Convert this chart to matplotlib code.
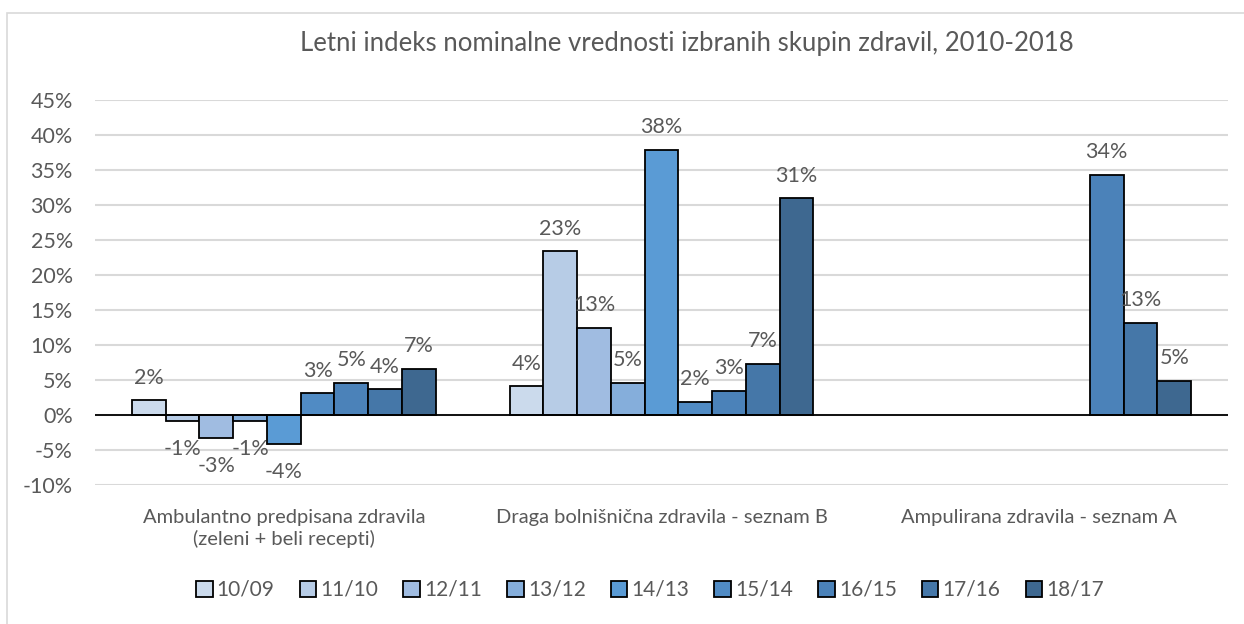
import numpy as np
import matplotlib
matplotlib.use("Agg")
import matplotlib.pyplot as plt
from matplotlib.patches import Rectangle

plt.rcParams['font.family'] = ['Lato', 'DejaVu Sans']

# data (in %)
categories = ["Ambulantno predpisana zdravila\n(zeleni + beli recepti)",
              "Draga bolnišnična zdravila - seznam B",
              "Ampulirana zdravila - seznam A"]
series = ["10/09", "11/10", "12/11", "13/12", "14/13", "15/14", "16/15", "17/16", "18/17"]
v_1009 = [2.1, 4.1, np.nan]
v_1110 = [-0.8, 23.4, np.nan]
v_1211 = [-3.3, 12.5, np.nan]
v_1312 = [-0.8, 4.6, np.nan]
v_1413 = [-4.2, 37.9, np.nan]
v_1514 = [3.1, 1.9, np.nan]
v_1615 = [4.6, 3.5, 34.3]
v_1716 = [3.7, 7.3, 13.2]
v_1817 = [6.6, 31.0, 4.9]
values = [v_1009, v_1110, v_1211, v_1312, v_1413, v_1514, v_1615, v_1716, v_1817]
labels = [["2%", "4%", ""], ["-1%", "23%", ""], ["-3%", "13%", ""], ["-1%", "5%", ""],
          ["-4%", "38%", ""], ["3%", "2%", ""], ["5%", "3%", "34%"], ["4%", "7%", "13%"],
          ["7%", "31%", "5%"]]
colors = ["#cbdaec", "#b7cce6", "#a0bce1", "#85aedb", "#5a9bd5",
          "#508bc4", "#4b82b9", "#4577a8", "#3e6890"]

txt = "#595959"
fig = plt.figure(figsize=(12.44, 6.24), dpi=100)
fig.patches.append(Rectangle((7/1244, -0.1), 1.2, 1 - 13/624 + 0.1, transform=fig.transFigure,
                             fill=False, edgecolor="#d9d9d9", linewidth=1.2))
ax = fig.add_axes([95/1244, 1 - 485/624, (1228 - 95)/1244, 385/624])

x = np.arange(len(categories))
w = 0.0894
for i, (s, vals) in enumerate(zip(series, values)):
    pos = x + (i - 4) * w
    ax.bar(pos, vals, width=w, color=colors[i], edgecolor="black", linewidth=1.3,
           label=s, zorder=3)
    for p, v, lab in zip(pos, vals, labels[i]):
        if np.isnan(v) or lab == "":
            continue
        if v >= 0:
            ax.annotate(lab, (p, v), xytext=(0, 9), textcoords="offset points",
                        ha="center", va="bottom", fontsize=15.5, color=txt)
        else:
            ax.annotate(lab, (p, v), xytext=(0, -13), textcoords="offset points",
                        ha="center", va="top", fontsize=15.5, color=txt)

ax.set_xlim(-0.5, 2.5)
ax.set_ylim(-10, 45)
ax.set_yticks(np.arange(-10, 46, 5))
ax.set_yticklabels([f"{t}%" for t in range(-10, 46, 5)], fontsize=15.5, color=txt)
ax.yaxis.grid(True, color="#d9d9d9", linewidth=1.5, zorder=0)
ax.axhline(0, color="black", linewidth=1.3, zorder=4)
ax.set_xticks(x)
ax.set_xticklabels(categories, fontsize=14.5, color=txt, linespacing=1.3)
ax.tick_params(axis="y", length=0, pad=16)
ax.tick_params(axis="x", length=0, pad=17)
for sp in ax.spines.values():
    sp.set_visible(False)

fig.text(687/1244, 1 - 43/624, "Letni indeks nominalne vrednosti izbranih skupin zdravil, 2010-2018",
         ha="center", va="center", fontsize=18.5, color=txt)

fig.legend(loc="center", bbox_to_anchor=(650/1244, 1 - 590/624), ncol=9, frameon=False,
           fontsize=15, handlelength=0.8, handleheight=0.8, handletextpad=0.2,
           columnspacing=1.2, labelcolor=txt)

fig.savefig("out.png", dpi=100)
